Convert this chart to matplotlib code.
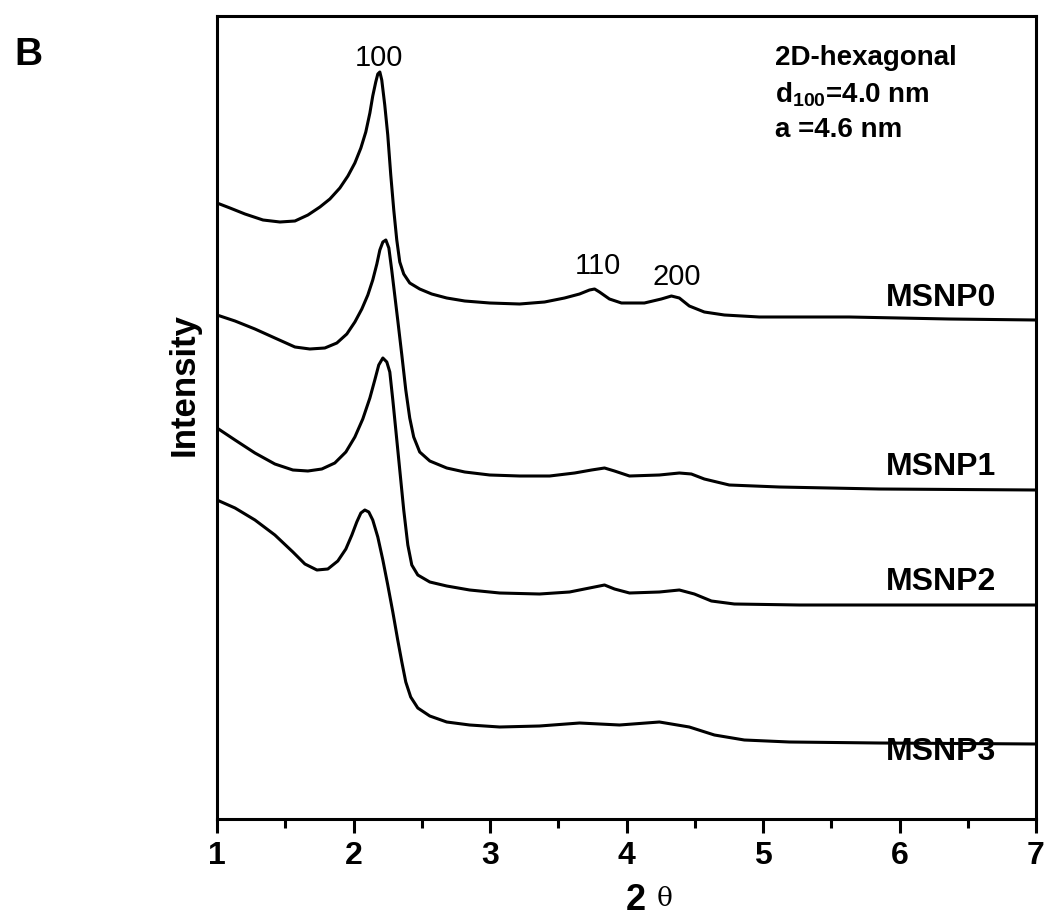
import matplotlib
matplotlib.use("Agg")
import matplotlib.pyplot as plt
from matplotlib.ticker import MultipleLocator

plt.rcParams['font.family'] = ['Liberation Sans', 'DejaVu Sans']
plt.rcParams['mathtext.fontset'] = 'custom'
plt.rcParams['mathtext.rm'] = 'Liberation Sans:bold'
plt.rcParams['mathtext.bf'] = 'Liberation Sans:bold'

# 2-theta positions and intensities (arbitrary units, curves offset vertically)
tt0 = [1.000, 1.095, 1.205, 1.337, 1.461, 1.571, 1.666, 1.754, 1.827, 1.900, 1.959,
       2.010, 2.054, 2.090, 2.120, 2.141, 2.163, 2.178, 2.193, 2.207, 2.229, 2.251,
       2.273, 2.295, 2.317, 2.339, 2.368, 2.412, 2.485, 2.573, 2.683, 2.815, 2.998,
       3.217, 3.400, 3.546, 3.656, 3.729, 3.766, 3.802, 3.875, 3.963, 4.131, 4.255,
       4.329, 4.387, 4.460, 4.570, 4.717, 4.973, 5.632, 6.363, 7.000]
msnp0 = [616, 611, 605, 599, 597, 598, 604, 612, 620, 631, 643,
         656, 671, 687, 706, 723, 737, 745, 747, 739, 714, 684,
         644, 609, 579, 557, 545, 536, 530, 525, 521, 518, 516,
         515, 517, 521, 525, 529, 530, 527, 520, 516, 516, 520,
         523, 521, 513, 507, 504, 502, 502, 500, 499]

tt1 = [1.000, 1.132, 1.278, 1.424, 1.571, 1.680, 1.790, 1.878, 1.951, 2.010, 2.061,
       2.105, 2.141, 2.171, 2.193, 2.215, 2.237, 2.259, 2.280, 2.302, 2.324, 2.354,
       2.383, 2.412, 2.441, 2.485, 2.559, 2.683, 2.815, 2.998, 3.217, 3.437, 3.620,
       3.744, 3.839, 3.912, 4.022, 4.241, 4.387, 4.475, 4.570, 4.753, 5.119, 5.851,
       7.000]
msnp1 = [504, 498, 490, 481, 472, 470, 471, 476, 485, 497, 510,
         524, 539, 555, 569, 577, 579, 571, 549, 524, 499, 464,
         429, 401, 382, 367, 358, 351, 347, 344, 343, 343, 346,
         349, 351, 348, 343, 344, 346, 345, 340, 334, 332, 330,
         329]

tt2 = [1.000, 1.132, 1.278, 1.424, 1.556, 1.666, 1.768, 1.863, 1.944, 2.010, 2.068,
       2.120, 2.156, 2.185, 2.215, 2.244, 2.266, 2.288, 2.310, 2.339, 2.368, 2.398,
       2.427, 2.471, 2.559, 2.683, 2.851, 3.071, 3.363, 3.583, 3.729, 3.839, 3.912,
       4.022, 4.241, 4.387, 4.497, 4.622, 4.790, 5.266, 7.000]
msnp2 = [391, 379, 366, 355, 349, 348, 350, 356, 367, 382, 400,
         421, 439, 454, 461, 457, 447, 419, 389, 349, 309, 274,
         254, 244, 237, 233, 229, 226, 225, 227, 231, 234, 230,
         226, 227, 229, 225, 218, 215, 214, 214]

tt3 = [1.000, 1.132, 1.278, 1.424, 1.556, 1.644, 1.732, 1.812, 1.885, 1.944, 1.988,
       2.024, 2.054, 2.083, 2.112, 2.141, 2.178, 2.215, 2.251, 2.288, 2.324, 2.354,
       2.383, 2.419, 2.471, 2.559, 2.683, 2.851, 3.071, 3.363, 3.656, 3.949, 4.241,
       4.460, 4.644, 4.863, 5.193, 5.851, 7.000]
msnp3 = [319, 311, 299, 284, 267, 255, 249, 250, 258, 270, 284,
         297, 306, 309, 307, 299, 282, 259, 234, 207, 179, 157,
         137, 122, 111, 103, 97, 94, 92, 93, 96, 94, 97,
         92, 84, 79, 77, 76, 75]

curves = [(tt0, msnp0, 'MSNP0', 521), (tt1, msnp1, 'MSNP1', 352),
          (tt2, msnp2, 'MSNP2', 237), (tt3, msnp3, 'MSNP3', 67)]

fig = plt.figure(figsize=(10.5, 9.21), dpi=100)
ax = fig.add_axes([217 / 1050, 1 - 819 / 921, (1036 - 217) / 1050, (819 - 16) / 921])

for tt, y, name, ylab in curves:
    ax.plot(tt, y, color='black', lw=2.2)
    ax.text(5.9, ylab, name, fontsize=23, fontweight='bold', va='center', ha='left')

# reflection indices
ax.text(2.185, 761, '100', fontsize=21, ha='center', va='center')
ax.text(3.79, 553, '110', fontsize=21, ha='center', va='center')
ax.text(4.37, 542, '200', fontsize=21, ha='center', va='center')

# lattice info
ax.text(5.09, 761, '2D-hexagonal', fontsize=20, fontweight='bold', va='center')
ax.text(5.09, 724, r'd$_{100}$=4.0 nm', fontsize=20, fontweight='bold', va='center')
ax.text(5.09, 689, 'a =4.6 nm', fontsize=20, fontweight='bold', va='center')

ax.set_xlim(1, 7)
ax.set_ylim(0, 803)
ax.set_yticks([])
ax.xaxis.set_major_locator(MultipleLocator(1))
ax.xaxis.set_minor_locator(MultipleLocator(0.5))
ax.tick_params(axis='x', which='major', direction='out', length=10, width=2.2,
               labelsize=23, pad=6)
ax.tick_params(axis='x', which='minor', direction='out', length=6.5, width=2.2)
for lab in ax.get_xticklabels():
    lab.set_fontweight('bold')
for sp in ax.spines.values():
    sp.set_linewidth(2.2)

fig.text(184 / 1050, 1 - 385 / 921, 'Intensity', rotation=90, fontsize=25,
         fontweight='bold', ha='center', va='center')
fig.text(636 / 1050, 1 - 900 / 921, '2', fontsize=26, fontweight='bold',
         ha='center', va='center')
fig.text(665 / 1050, 1 - 898 / 921, 'θ', fontsize=19, family='DejaVu Serif',
         ha='center', va='center')
fig.text(28 / 1050, 1 - 55 / 921, 'B', fontsize=28, fontweight='bold',
         ha='center', va='center')

fig.savefig('out.png', dpi=100)
